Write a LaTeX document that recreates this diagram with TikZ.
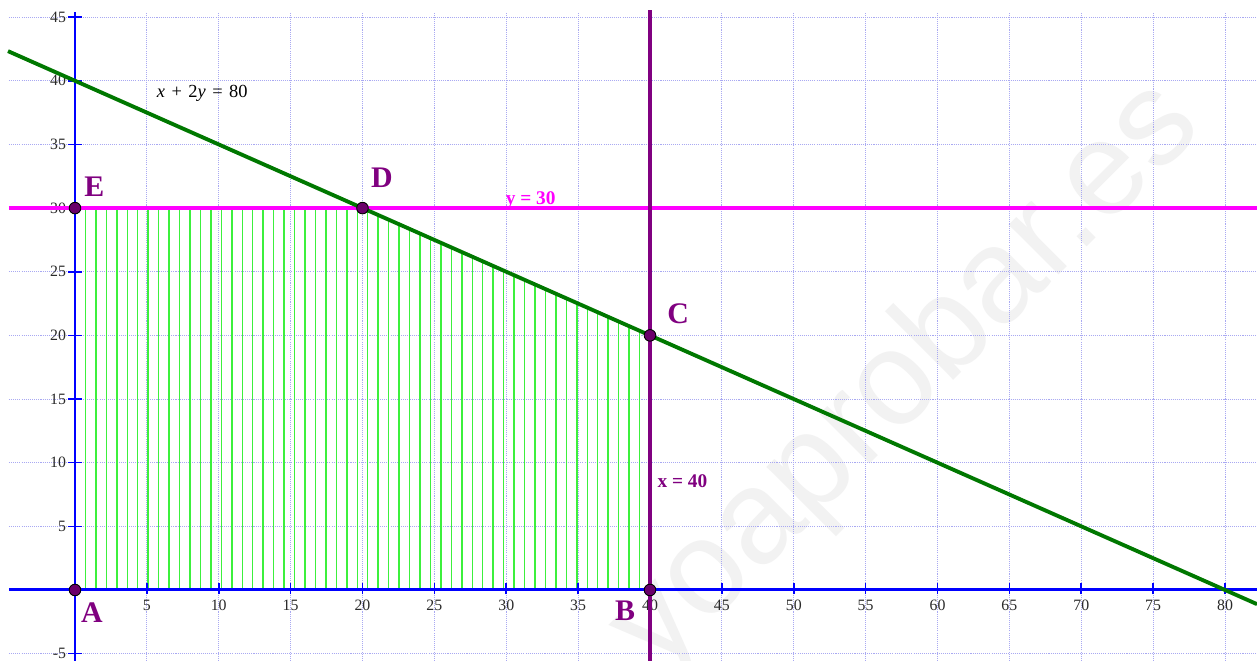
\documentclass[tikz,border=0pt]{standalone}
\usepackage{fontspec}
\setmainfont{Liberation Serif}
\newfontfamily\wmfont{Liberation Sans}
\usetikzlibrary{positioning}
\definecolor{axisblue}   {HTML}{0000FF}
\definecolor{gridlav}    {HTML}{A9A9F2}
\definecolor{lineGreen}  {HTML}{007800}
\definecolor{regionGreen}{HTML}{3CF03C}
\definecolor{lineMag}    {HTML}{FF00FF}
\definecolor{linePurple} {HTML}{800080}
\definecolor{ptFill}     {HTML}{6A006A}
\definecolor{tickInk}    {HTML}{2A2A2A}
\definecolor{wmGray}     {HTML}{F2F2F2}

\begin{document}
\begin{tikzpicture}[x=0.2875cm, y=0.2546cm,
  gridline/.style={draw=gridlav, line width=0.55pt, dash pattern=on 0.6pt off 0.6pt},
  axisline/.style={draw=axisblue, line width=1.7pt},
  tickmark/.style={draw=axisblue, line width=0.9pt},
  ticklab/.style={font=\fontsize{9}{10}\selectfont, text=tickInk, inner sep=0pt},
  eqline/.style={draw=lineGreen, line width=2.2pt},
  magline/.style={draw=lineMag, line width=2.2pt},
  purpline/.style={draw=linePurple, line width=2.2pt},
  hatchline/.style={draw=regionGreen, line width=0.8pt},
  regionedge/.style={draw=regionGreen, line width=0.9pt},
  vertex/.style={circle, draw=black, line width=0.5pt, fill=ptFill, minimum size=6.6pt, inner sep=0pt},
  vlabel/.style={font=\fontsize{17}{20}\selectfont\bfseries, text=linePurple, inner sep=0pt},
  eqlabel/.style={font=\fontsize{11}{13}\selectfont\bfseries, inner sep=0pt}
]
\useasboundingbox (-5.217,-5.577) rectangle (82.226,46.347);
\fill[white] (-5.217,-5.577) rectangle (82.226,46.347);

% watermark
\node[font=\wmfont\fontsize{76}{80}\selectfont, text=wmGray, rotate=45, anchor=base east,
      inner sep=0pt] (wm) at (78.6,36.2) {yoaprobar.es};

% grid
\foreach \gx in {0,5,...,80}{\draw[gridline] (\gx,-5.58) -- (\gx,45.4);}
\foreach \gy in {-5,0,...,45}{\draw[gridline] (-4.6,\gy) -- (82.23,\gy);}

% corner points of the region
\coordinate (pA) at (0,0);
\coordinate (pB) at (40,0);
\coordinate (pC) at (40,20);
\coordinate (pD) at (20,30);
\coordinate (pE) at (0,30);

% hatching
\foreach \k in {1,...,54}{
  \pgfmathsetmacro\hx{\k*40/55}
  \pgfmathsetmacro\hy{min(30,(80-\hx)/2)}
  \draw[hatchline] (\hx,0) -- (\hx,\hy);
}
\draw[regionedge] (pA) -- (pB) -- (pC) -- (pD) -- (pE) -- cycle;

% axes
\coordinate (xl) at (-4.6,0);
\coordinate (xr) at (82.23,0);
\coordinate (yb) at (0,-5.58);
\coordinate (yt) at (0,45.4);
\draw[axisline] (xl) -- (xr);
\draw[axisline] (yb) -- (yt);
\foreach \t in {5,10,...,80}{
  \draw[tickmark] (\t,-0.35) -- (\t,0.55);
  \node[ticklab] (xt\t) at (\t,-1.2) {\t};
}
\foreach \t in {-5,5,10,...,45}{
  \draw[tickmark] (-0.5,\t) -- (0.5,\t);
  \node[ticklab, anchor=east] (yt\t) at (-0.6,\t) {\t};
}

% constraint lines
\coordinate (gl) at (-4.66,42.33);
\coordinate (gr) at (82.23,-1.115);
\coordinate (ml) at (-4.6,30);
\coordinate (mr) at (82.23,30);
\coordinate (pt) at (40,45.56);
\coordinate (pb) at (40,-5.58);
\draw[magline] (ml) -- (mr);
\draw[purpline] (pt) -- (pb);
\draw[eqline] (gl) -- (gr);

% vertices
\node[vertex] (A) at (pA) {};
\node[vertex] (B) at (pB) {};
\node[vertex] (C) at (pC) {};
\node[vertex] (D) at (pD) {};
\node[vertex] (E) at (pE) {};
\node[vlabel] (labA) at (1.18,-1.81) {A};
\node[vlabel] (labB) at (38.26,-1.6) {B};
\node[vlabel] (labC) at (41.95,21.7) {C};
\node[vlabel] (labD) at (21.35,32.4) {D};
\node[vlabel] (labE) at (1.35,31.7) {E};

% equation labels
\node[inner sep=0pt, font=\fontsize{10.5}{12}\selectfont] (eqG) at (8.85,39.0)
  {\textit{x}\hspace{0.35em}+\hspace{0.35em}2\textit{y}\hspace{0.35em}=\hspace{0.35em}80};
\node[eqlabel, text=lineMag] (eqM) at (31.7,30.6) {y = 30};
\node[eqlabel, text=linePurple] (eqP) at (42.25,8.55) {x = 40};
\end{tikzpicture}
\end{document}
